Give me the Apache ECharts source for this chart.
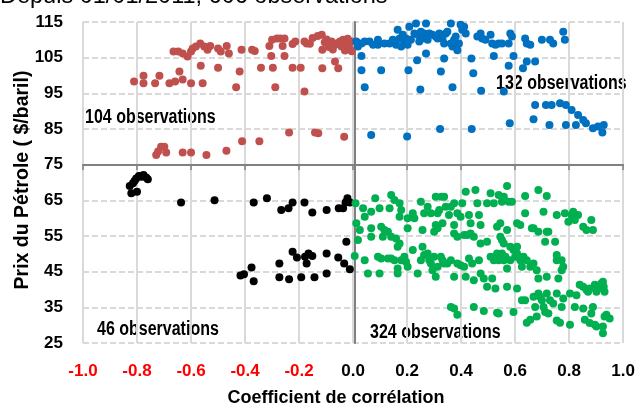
<!DOCTYPE html>
<html>
<head>
<meta charset="utf-8">
<script src="https://cdn.jsdelivr.net/npm/echarts@6/dist/echarts.min.js"></script>
<style>
  html, body { margin: 0; padding: 0; background: #fff; }
  #main { width: 638px; height: 409px; }
</style>
</head>
<body>
<div id="main"></div>
<script>
// Prix du pétrole vs coefficient de corrélation, depuis 01/01/2011
var titleText = 'Depuis 01/01/2011, 606 observations';
var xName = 'Coefficient de corrélation';
var yName = 'Prix du Pétrole ( $/baril)';

// quadrant counts
var quadLabels = ['104 observations', '132 observations', '46 observations', '324 observations'];

// corr < 0, prix > 75
var redPts = [
    [-0.665,106.7],[-0.647,106.7],[-0.631,106.2],[-0.613,105.3],[-0.600,106.7],[-0.594,107.6],[-0.582,108.1],
    [-0.566,109.0],[-0.551,108.1],[-0.539,107.2],[-0.529,108.3],[-0.500,107.6],[-0.490,106.7],[-0.468,108.3],
    [-0.460,106.2],[-0.413,107.2],[-0.374,107.2],[-0.364,106.9],[-0.310,108.3],[-0.300,110.0],[-0.282,110.4],
    [-0.270,110.4],[-0.254,110.4],[-0.261,108.3],[-0.224,108.8],[-0.214,109.5],[-0.180,109.5],[-0.172,109.0],
    [-0.131,111.1],[-0.150,110.5],[-0.160,108.9],
    [-0.811,98.3],[-0.776,99.9],[-0.776,97.8],[-0.733,97.8],[-0.717,99.9],[-0.680,97.8],[-0.659,98.3],
    [-0.643,101.1],[-0.631,98.9],[-0.600,97.8],[-0.557,97.8],[-0.564,102.7],[-0.500,102.2],[-0.433,96.7],
    [-0.420,101.1],[-0.341,102.2],[-0.297,102.2],[-0.288,96.7],[-0.224,102.2],[-0.194,102.2],[-0.180,95.5],
    [-0.303,105.5],[-0.254,105.5],
    [-0.729,77.7],[-0.711,80.0],[-0.699,80.0],[-0.692,78.4],[-0.722,78.7],[-0.631,78.4],[-0.600,78.4],
    [-0.543,77.7],[-0.469,78.9],[-0.411,81.6],[-0.347,81.6],[-0.237,84.0],[-0.141,84.0],[-0.129,83.8],
    [-0.033,82.8],
    [-0.116,111.4],[-0.098,110.1],[-0.080,109.5],[-0.061,109.0],[-0.049,109.5],[-0.037,110.0],[-0.025,108.6],
    [-0.012,107.6],[-0.006,109.5],[-0.043,108.1],[-0.067,108.6],[-0.114,107.2],[-0.067,103.9],[-0.055,102.0],
    [-0.114,102.0],[-0.090,108.0],[-0.030,107.0],[-0.018,108.8],[-0.005,106.8],[-0.075,107.3],[-0.105,109.3],
    [-0.020,110.3]
];

// corr > 0, prix > 75
var bluePts = [
    [0.012,109.5],[0.031,109.0],[0.043,109.5],[0.061,109.5],[0.074,108.6],[0.092,110.0],[0.092,108.6],
    [0.116,109.0],[0.135,109.0],[0.147,110.0],[0.159,108.6],[0.165,112.8],[0.172,110.4],[0.184,111.4],
    [0.190,109.5],[0.196,110.4],[0.202,108.6],[0.208,113.7],[0.214,110.0],[0.227,111.8],[0.233,114.6],
    [0.239,111.4],[0.245,109.5],[0.251,112.3],[0.257,110.4],[0.263,111.8],[0.270,114.6],[0.276,110.0],
    [0.282,111.8],[0.294,111.4],[0.306,110.9],[0.313,110.4],[0.319,111.8],[0.325,111.4],[0.331,110.4],
    [0.337,109.0],[0.343,111.8],[0.349,112.3],[0.362,114.6],[0.368,108.1],[0.374,110.0],[0.380,110.9],
    [0.386,107.1],[0.392,109.0],[0.398,114.2],[0.404,112.8],[0.411,113.7],[0.417,111.8],[0.362,109.0],
    [0.460,110.9],[0.472,111.8],[0.478,110.4],[0.490,110.0],[0.509,111.4],[0.515,109.0],[0.527,108.6],
    [0.539,109.0],[0.551,109.0],[0.576,109.0],[0.582,111.8],[0.588,110.9],[0.637,110.4],[0.643,109.0],
    [0.656,108.6],[0.699,110.0],[0.729,110.0],[0.741,109.0],[0.778,112.3],[0.784,110.0],[0.018,108.1],
    [0.178,108.1],
    [0.031,105.5],[0.031,101.5],[0.043,96.7],[0.104,101.5],[0.205,101.5],[0.237,104.3],[0.249,96.1],
    [0.270,106.2],[0.325,101.1],[0.337,104.8],[0.368,96.7],[0.438,104.8],[0.445,100.6],[0.474,95.7],
    [0.521,105.5],[0.558,95.5],[0.576,102.7],[0.594,105.5],[0.629,102.0],[0.643,103.9],[0.674,103.9],
    [0.674,91.7],[0.714,91.7],[0.735,91.7],[0.766,92.2],[0.788,91.7],[0.809,90.3],[0.833,88.9],
    [0.852,87.5],[0.862,86.6],[0.888,85.2],[0.907,85.7],[0.923,84.0],[0.928,86.1],[0.668,87.7],
    [0.727,86.1],[0.788,86.1],[0.825,86.1],[0.580,86.6],[0.067,83.3],[0.200,82.9],[0.322,85.0],[0.439,85.0]
];

// corr < 0, prix < 75
var blackPts = [
    [-0.827,69.0],[-0.821,67.0],[-0.815,69.8],[-0.809,70.4],[-0.803,71.1],[-0.793,71.8],[-0.784,71.6],
    [-0.776,72.1],[-0.766,71.4],[-0.760,70.9],[-0.800,67.4],[-0.637,64.4],[-0.513,65.0],[-0.368,64.4],
    [-0.319,65.6],[-0.266,62.3],[-0.239,62.8],[-0.224,64.4],[-0.180,64.4],[-0.151,61.6],[-0.098,62.3],
    [-0.053,62.8],[-0.037,62.8],[-0.028,64.4],[-0.021,65.6],[-0.012,64.4],
    [-0.417,43.9],[-0.404,44.3],[-0.376,46.2],[-0.368,42.3],[-0.273,47.3],[-0.273,43.4],[-0.237,42.9],
    [-0.224,50.6],[-0.208,49.0],[-0.192,43.4],[-0.178,49.2],[-0.172,47.3],[-0.165,50.1],[-0.151,49.4],
    [-0.143,43.4],[-0.098,50.1],[-0.098,44.5],[-0.055,49.0],[-0.033,47.3],[-0.025,53.4],[-0.012,45.7]
];

// corr > 0, prix < 75
var greenPts = [
    [0.009,64.2],[0.037,62.8],[0.043,60.4],[0.067,61.8],[0.082,65.6],[0.098,62.8],[0.135,62.8],[0.141,66.5],
    [0.153,65.1],[0.172,64.2],[0.178,62.3],[0.172,60.4],[0.202,60.0],[0.221,61.4],[0.227,60.0],[0.251,64.6],
    [0.263,61.4],[0.276,63.2],[0.288,61.4],[0.306,66.0],[0.313,61.4],[0.319,62.3],[0.327,66.0],[0.337,66.0],
    [0.343,63.2],[0.331,58.6],[0.355,60.9],[0.362,63.2],[0.374,64.2],[0.374,58.1],[0.386,61.4],[0.398,60.4],
    [0.404,64.2],[0.417,67.4],[0.429,60.9],[0.435,58.6],[0.453,67.9],[0.460,64.2],[0.466,60.9],[0.472,58.1],
    [0.496,64.2],[0.509,67.0],[0.521,64.2],[0.539,66.5],[0.551,64.6],[0.558,66.0],[0.570,69.0],[0.576,64.6],
    [0.588,64.6],[0.607,58.6],[0.619,58.1],[0.637,66.2],[0.637,61.4],[0.668,57.2],[0.686,67.9],[0.705,61.8],
    [0.717,66.2],[0.723,56.2],[0.754,60.9],[0.784,61.4],[0.797,59.0],[0.809,60.9],[0.815,61.8],[0.821,59.5],
    [0.833,60.9],[0.852,57.6],[0.882,59.5],[0.888,56.7],[0.864,56.7],
    [0.012,58.6],[0.025,56.7],[0.018,53.9],[0.067,57.2],[0.067,54.8],[0.104,57.6],[0.110,54.8],[0.116,56.7],
    [0.129,56.2],[0.141,54.8],[0.159,54.3],[0.165,52.0],[0.172,52.9],[0.202,57.2],[0.257,56.7],[0.300,56.2],
    [0.306,58.1],[0.313,57.2],[0.374,55.7],[0.386,54.8],[0.411,55.3],[0.423,55.3],[0.435,55.7],[0.447,54.8],
    [0.472,52.9],[0.496,53.4],[0.533,57.6],[0.545,58.6],[0.545,54.8],[0.551,53.9],[0.558,52.9],[0.570,56.7],
    [0.582,52.0],[0.594,51.1],[0.607,52.0],[0.662,57.2],[0.686,56.2],[0.711,53.4],[0.717,56.2],[0.748,53.4],
    [0.754,49.7],
    [0.006,49.4],[0.043,48.2],[0.055,44.5],[0.092,49.2],[0.098,44.5],[0.104,48.7],[0.129,48.7],[0.141,48.7],
    [0.153,48.2],[0.165,45.9],[0.165,44.5],[0.178,48.2],[0.190,49.2],[0.196,47.8],[0.202,46.4],[0.221,51.1],
    [0.239,44.5],[0.251,48.2],[0.257,52.0],[0.263,49.7],[0.276,50.1],[0.282,48.2],[0.288,47.3],[0.294,45.4],
    [0.300,49.2],[0.306,43.6],[0.313,46.4],[0.325,49.2],[0.331,48.2],[0.337,47.3],[0.349,47.3],[0.362,48.2],
    [0.374,43.6],[0.386,47.3],[0.398,46.8],[0.411,46.4],[0.417,43.6],[0.429,48.7],[0.441,47.3],[0.447,42.6],
    [0.466,48.2],[0.472,44.5],[0.484,43.1],[0.496,40.8],[0.509,49.2],[0.515,43.1],[0.521,48.2],[0.527,40.3],
    [0.533,50.1],[0.539,48.2],[0.545,49.2],[0.551,50.1],[0.558,48.2],[0.564,49.2],[0.570,45.9],[0.582,48.2],
    [0.594,51.5],[0.600,49.2],[0.607,50.1],[0.613,49.2],[0.619,48.2],[0.625,46.4],[0.631,49.2],[0.643,48.2],
    [0.656,46.4],[0.668,47.3],[0.680,45.4],[0.686,43.1],[0.717,43.6],[0.754,48.2],[0.760,43.1],[0.772,48.2],
    [0.778,46.4],[0.772,45.4],
    [0.362,35.1],[0.374,34.7],[0.386,32.9],[0.447,35.1],[0.484,34.0],[0.533,33.5],[0.539,33.3],[0.594,33.7],
    [0.570,40.8],[0.607,40.3],[0.625,37.0],[0.637,37.0],[0.643,30.7],[0.656,31.5],[0.668,38.0],[0.674,35.1],
    [0.680,32.4],[0.686,38.9],[0.692,38.0],[0.699,37.0],[0.705,35.1],[0.711,33.7],[0.717,38.9],[0.723,33.3],
    [0.729,37.0],[0.741,36.1],[0.754,38.9],[0.754,31.3],[0.766,30.7],[0.772,35.1],[0.778,37.5],[0.803,30.1],
    [0.803,38.9],[0.821,35.1],[0.827,38.4],[0.839,41.3],[0.852,40.8],[0.852,34.7],[0.858,31.5],[0.864,39.9],
    [0.870,39.4],[0.876,40.3],[0.882,33.3],[0.888,35.1],[0.895,41.3],[0.901,39.4],[0.907,40.3],[0.913,40.8],
    [0.919,41.7],[0.925,42.2],[0.928,40.8],[0.931,39.4],[0.895,30.1],[0.901,29.6],[0.925,29.6],[0.931,32.4],
    [0.938,32.9],[0.950,31.9],[0.925,27.7],[0.876,30.6]
];

var xMin = -1, xMax = 1, xStep = 0.2;
var yMin = 25, yMax = 115, yStep = 10;

var sans = '"Liberation Sans", Arial, sans-serif';

var chart = echarts.init(document.getElementById('main'));

function dots(name, data, color) {
    return {
        name: name,
        type: 'scatter',
        data: data,
        symbol: 'circle',
        symbolSize: 8,
        itemStyle: { color: color, opacity: 1 },
        xAxisIndex: 0,
        yAxisIndex: 0
    };
}

// texte gras un peu condensé (style Arial Narrow)
function note(txt, x, y) {
    return {
        type: 'text', x: x, y: y, scaleX: 0.8,
        style: { text: txt, font: 'bold 20px ' + sans, fill: '#000', align: 'left', verticalAlign: 'middle' }
    };
}

var option = {
    animation: false,
    backgroundColor: '#fff',
    grid: { left: 83, right: 11, top: 22, bottom: 66 },
    xAxis: [{
        type: 'value',
        min: xMin, max: xMax, interval: xStep,
        axisLine: { show: false },
        axisTick: { show: false },
        axisLabel: {
            margin: 20,
            fontFamily: sans, fontWeight: 'bold', fontSize: 17,
            formatter: function (v) { return v.toFixed(1); },
            color: function (v) { return v < -0.001 ? '#ff0000' : '#000'; }
        },
        splitLine: { show: true, lineStyle: { color: '#d9d9d9', width: 2, type: 'solid' } }
    }, {
        // ligne horizontale à 75 avec graduations
        type: 'value',
        position: 'bottom',
        offset: -178,
        min: xMin, max: xMax, interval: xStep,
        axisLine: { show: true, lineStyle: { color: '#808080', width: 2 } },
        axisTick: { show: true, inside: false, length: 5, lineStyle: { color: '#808080', width: 1.5 } },
        axisLabel: { show: false },
        splitLine: { show: false }
    }],
    yAxis: [{
        type: 'value',
        min: yMin, max: yMax, interval: yStep,
        axisLine: { show: false },
        axisTick: { show: false },
        axisLabel: { margin: 20, fontFamily: sans, fontWeight: 'bold', fontSize: 17, color: '#000' },
        splitLine: { show: true, lineStyle: { color: '#d9d9d9', width: 2, type: [6, 3] } }
    }, {
        // ligne verticale à 0
        type: 'value',
        position: 'left',
        offset: -272,
        min: yMin, max: yMax, interval: yStep,
        axisLine: { show: true, lineStyle: { color: '#808080', width: 2 } },
        axisTick: { show: false },
        axisLabel: { show: false },
        splitLine: { show: false }
    }],
    graphic: [
        { type: 'text', x: 0, y: -3, style: { text: titleText, font: '23.5px ' + sans, fill: '#000', align: 'left', verticalAlign: 'middle' } },
        { type: 'text', x: 336, y: 398, style: { text: xName, font: 'bold 18px ' + sans, fill: '#000', align: 'center', verticalAlign: 'middle' } },
        { type: 'text', x: 23, y: 180, rotation: Math.PI / 2, style: { text: yName, font: 'bold 19.5px ' + sans, fill: '#000', align: 'center', verticalAlign: 'middle' } },
        note(quadLabels[0], 85, 117),
        note(quadLabels[1], 496, 83),
        note(quadLabels[2], 97, 329),
        note(quadLabels[3], 370, 332)
    ],
    series: [
        dots('neg_haut', redPts, '#c0504d'),
        dots('pos_haut', bluePts, '#0070c0'),
        dots('neg_bas', blackPts, '#000000'),
        dots('pos_bas', greenPts, '#00b050')
    ]
};

chart.setOption(option);
</script>
</body>
</html>
